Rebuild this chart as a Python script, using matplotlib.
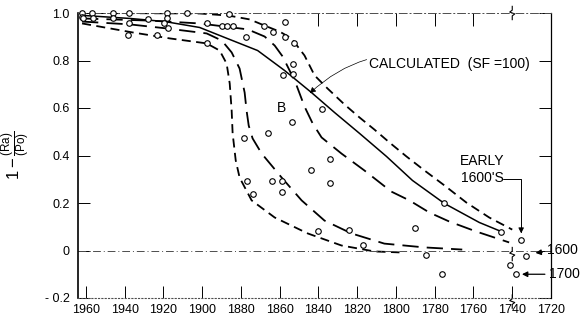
import matplotlib
matplotlib.use('Agg')
import matplotlib.pyplot as plt
from matplotlib import font_manager

# ---- digitised values ----
# solid curve, "CALCULATED (SF=100)"
calc_year = [1962.0, 1937.3, 1919.3, 1901.3, 1888.4, 1871.4, 1857.5, 1843.6, 1831.7,
             1818.8, 1804.9, 1791.5, 1775.0, 1757.0, 1745.7]
calc_val = [0.99, 0.977, 0.964, 0.939, 0.897, 0.842, 0.758, 0.665, 0.581,
            0.493, 0.396, 0.295, 0.198, 0.118, 0.08]
# outer short-dash curve
upper_year = [1962.0, 1901.3, 1886.3, 1875.5, 1867.8, 1860.1, 1853.9, 1847.2, 1842.0, 1835.3,
              1826.6, 1818.8, 1811.1, 1803.4, 1794.6, 1785.3, 1775.0, 1763.7, 1751.9, 1740.0]
upper_val = [1.0, 0.998, 0.989, 0.973, 0.947, 0.922, 0.893, 0.821, 0.737, 0.682,
             0.615, 0.560, 0.509, 0.455, 0.396, 0.337, 0.274, 0.202, 0.139, 0.088]
# long-dash curve crossing the calculated one
mid_year = [1962.0, 1927.0, 1901.3, 1888.4, 1876.5, 1867.8, 1862.6, 1858.5, 1854.9, 1851.3, 1847.2,
            1843.0, 1838.4, 1828.1, 1816.3, 1802.4, 1793.1, 1782.8, 1772.5, 1758.6, 1741.6]
mid_val = [0.977, 0.968, 0.956, 0.943, 0.931, 0.901, 0.863, 0.817, 0.758, 0.695, 0.606,
           0.535, 0.476, 0.408, 0.337, 0.248, 0.211, 0.160, 0.122, 0.080, 0.034]
# inner long-dash curve
low_year = [1962.0, 1937.3, 1918.3, 1897.7, 1889.9, 1884.8, 1880.7, 1878.1, 1877.1, 1876.0,
            1874.0, 1869.3, 1859.0, 1848.7, 1836.9, 1823.0, 1806.0, 1785.3, 1765.8]
low_val = [0.964, 0.952, 0.935, 0.914, 0.884, 0.834, 0.766, 0.665, 0.589, 0.526,
           0.472, 0.408, 0.307, 0.211, 0.126, 0.072, 0.029, 0.013, 0.004]
# innermost short-dash curve
lowest_year = [1962.0, 1935.8, 1916.7, 1897.7, 1891.0, 1887.4, 1885.8, 1884.8, 1884.3, 1882.7,
               1880.7, 1874.5, 1862.6, 1845.6, 1828.1, 1811.1, 1798.2]
lowest_val = [0.956, 0.918, 0.893, 0.872, 0.842, 0.787, 0.703, 0.589, 0.493, 0.379,
              0.307, 0.211, 0.139, 0.072, 0.021, -0.004, -0.008]
# measured points (open circles)
obs_year = [1962.1, 1962.1, 1961.5, 1956.9, 1946.1, 1937.8, 1918.3, 1908.0, 1886.3,
            1956.4, 1946.1, 1937.8, 1928.1, 1918.3, 1919.8, 1917.8,
            1938.4, 1923.4, 1897.7, 1897.7, 1890.0, 1887.4, 1884.3, 1877.6,
            1868.3, 1863.7, 1857.5, 1857.5, 1852.8, 1853.4, 1858.5, 1853.4,
            1838.4, 1853.9, 1866.2, 1878.6, 1834.3, 1844.1, 1833.8, 1877.1,
            1874.0, 1864.2, 1859.0, 1859.0, 1840.0, 1824.5, 1816.8, 1790.0,
            1775.0, 1745.7, 1735.4, 1784.3, 1776.1, 1741.0, 1732.8, 1737.9]
obs_val = [0.998, 0.985, 0.977, 1.0, 1.0, 1.0, 0.998, 0.998, 0.994,
           0.981, 0.977, 0.956, 0.973, 0.981, 0.956, 0.935,
           0.909, 0.909, 0.872, 0.956, 0.947, 0.947, 0.947, 0.897,
           0.947, 0.922, 0.964, 0.897, 0.872, 0.787, 0.741, 0.745,
           0.594, 0.539, 0.493, 0.472, 0.387, 0.337, 0.286, 0.291,
           0.24, 0.291, 0.291, 0.248, 0.084, 0.088, 0.025, 0.093,
           0.198, 0.08, 0.046, -0.021, -0.097, -0.063, -0.025, -0.097]

x_ticks = [1960, 1940, 1920, 1900, 1880, 1860, 1840, 1820, 1800, 1780, 1760, 1740, 1720]
top_ticks = [1840, 1820, 1800, 1780, 1760]
y_ticks = [-0.2, 0, 0.2, 0.4, 0.6, 0.8, 1.0]
y_labels = ['- 0.2', '0', '0.2', '0.4', '0.6', '0.8', '1.0']
break_year = 1740

fams = {f.name for f in font_manager.fontManager.ttflist}
tick_font = 'Liberation Sans Narrow' if 'Liberation Sans Narrow' in fams else 'Liberation Sans'
plt.rcParams.update({'font.family': 'Liberation Sans', 'font.size': 10,
                     'mathtext.fontset': 'custom', 'mathtext.rm': 'Liberation Sans',
                     'mathtext.it': 'Liberation Sans'})

fig = plt.figure(figsize=(5.84, 3.28), dpi=100)
ax = fig.add_axes([78/584, 30/328, 473/584, 285/328])

short, long_ = (0, (5, 3)), (0, (9, 4.5))
ax.plot(upper_year, upper_val, color='k', lw=1.3, ls=short)
ax.plot(calc_year, calc_val, color='k', lw=1.1)
ax.plot(mid_year, mid_val, color='k', lw=1.3, ls=long_)
ax.plot(low_year, low_val, color='k', lw=1.3, ls=long_)
ax.plot(lowest_year, lowest_val, color='k', lw=1.3, ls=short)
ax.plot(obs_year, obs_val, 'o', mfc='white', mec='k', ms=4, mew=0.8, clip_on=False, zorder=5)

ax.axhline(0, color='0.3', lw=0.7, ls=(0, (8, 3, 1, 3)))

ax.set_xlim(1964.1, 1720)
ax.set_ylim(-0.2, 1.0)
ax.set_xticks(x_ticks)
ax.set_xticklabels([str(t) for t in x_ticks], fontname=tick_font, fontsize=9)
ax.set_yticks(y_ticks)
ax.set_yticklabels(y_labels, fontname=tick_font, fontsize=9)
ax.tick_params(axis='x', direction='in', length=8.5, width=0.7, pad=4)
ax.tick_params(axis='y', direction='in', length=8.5, width=0.7, pad=6, right=True)
sec = ax.secondary_xaxis('top')
sec.set_xticks(top_ticks)
sec.set_xticklabels([])
sec.tick_params(direction='in', length=9, width=0.7)
sec.spines['top'].set_visible(False)

ax.spines['left'].set_linewidth(1.2)
ax.spines['right'].set_linewidth(0.9)
ax.spines['top'].set_linestyle((0, (8, 3, 1, 3)))
ax.spines['top'].set_linewidth(0.7)
ax.spines['top'].set_color('0.3')
ax.spines['bottom'].set_linestyle((0, (1, 2)))
ax.spines['bottom'].set_linewidth(0.8)
ax.spines['bottom'].set_color('0.3')

ax.set_ylabel(r'$1-\frac{(\mathrm{Ra})}{(\mathrm{Po})}$', fontsize=12)
ax.yaxis.set_label_coords(-0.095, 0.5)

# axis break marks
for yb in [1.0, -0.015, -0.215]:
    ax.plot([break_year, break_year, break_year - 1.3, break_year + 1.3, break_year, break_year],
            [yb - 0.028, yb - 0.012, yb - 0.004, yb + 0.004, yb + 0.012, yb + 0.028],
            color='k', lw=0.8, clip_on=False)

ax.annotate('CALCULATED  (SF =100)', xy=(1844.5, 0.662), xytext=(1813.7, 0.787),
            ha='left', va='center', fontsize=10,
            arrowprops=dict(arrowstyle='-|>', connectionstyle='arc3,rad=0.3', lw=0.5,
                            color='k', shrinkA=0, shrinkB=0, mutation_scale=9))
ax.text(1859, 0.6, 'B', ha='center', va='center', fontsize=10)
ax.text(1755.5, 0.341, "EARLY\n1600'S", ha='center', va='center', fontsize=10, linespacing=1.3)
ax.annotate('', xy=(1735.4, 0.072), xytext=(1745.0, 0.303),
            arrowprops=dict(arrowstyle='-|>', connectionstyle='angle,angleA=0,angleB=90,rad=0',
                            lw=0.7, color='k', shrinkA=0, shrinkB=0, mutation_scale=8))
ax.annotate('1600', xy=(1728.0, -0.01), xytext=(1722.3, 0.002), ha='left', va='center',
            fontsize=10, annotation_clip=False,
            arrowprops=dict(arrowstyle='-|>', lw=0.9, color='k', shrinkA=1, shrinkB=0,
                            mutation_scale=8))
ax.annotate('1700', xy=(1735.0, -0.1), xytext=(1721.0, -0.1), ha='left', va='center',
            fontsize=10, annotation_clip=False,
            arrowprops=dict(arrowstyle='-|>', lw=0.9, color='k', shrinkA=1, shrinkB=0,
                            mutation_scale=8))

fig.savefig('out.png', dpi=100)
